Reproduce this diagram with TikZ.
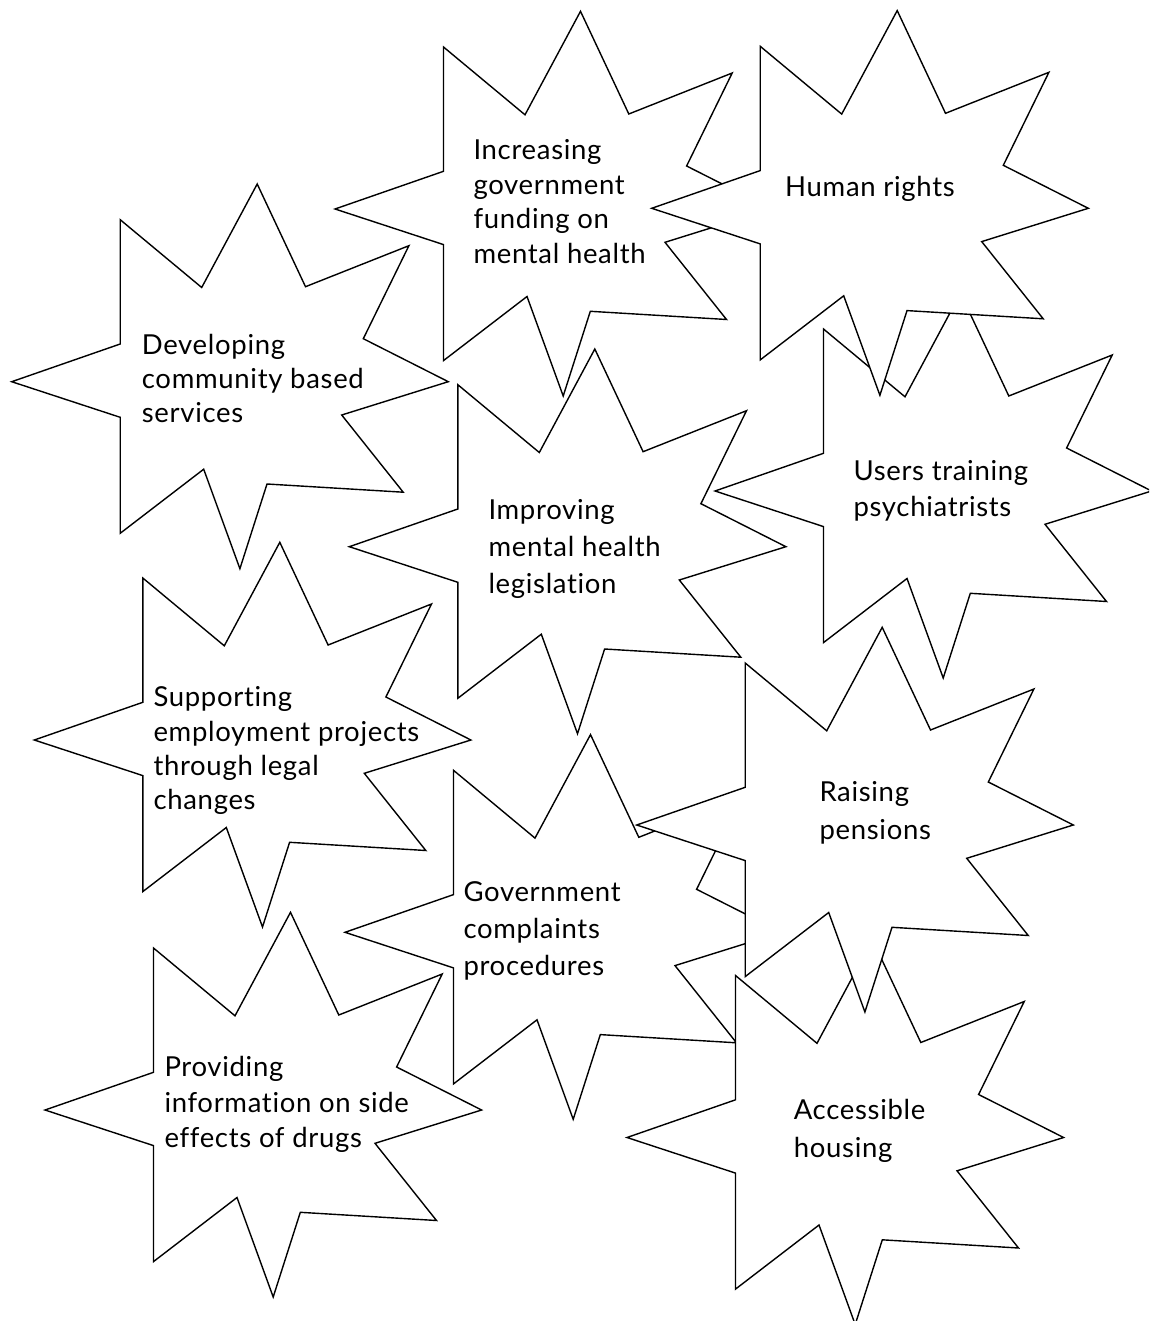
\documentclass[tikz,border=0pt]{standalone}
\usepackage{fontspec}
\setmainfont{Lato}[LetterSpace=2.5, Ligatures=NoCommon]
\newcommand\textlines[1]{\begin{tabular}[t]{@{}l@{}}#1\end{tabular}}
\begin{document}
\begin{tikzpicture}[x=1pt,y=-1pt,
  burst/.pic={
    \draw[fill=white, line width=1.4pt, line join=miter]
      (0,0) -- (108.5,-37.7) -- (108.5,-162) -- (190,-94.2) -- (245.5,-197.7)
      -- (293.8,-95) -- (397.2,-136) -- (351.6,-43) -- (436.6,0)
      -- (330,33.3) -- (391.5,110.5) -- (255.3,102.3) -- (228.2,187)
      -- (192,87.5) -- (108.5,151.6) -- (108.5,35.6) -- cycle;
  },
  blurb/.style={anchor=base west, inner sep=0pt, text=black,
    font=\fontsize{27.5}{#1}\selectfont}]
  \useasboundingbox (0,0) rectangle (1149,1321);
  \fill[white] (0,0) rectangle (1149,1321);
  \clip (0,0) rectangle (1149,1321);

  % bursts, back to front
  \pic at (11.7,381.7) {burst};
  \node[blurb=34] (developing) at (141.7,354.3)
    {\textlines{Developing\\community based\\services}};

  \pic at (34.3,740) {burst};
  \node[blurb=34.4] (supporting) at (153.3,706.7)
    {\textlines{Supporting\\employment projects\\through legal\\changes}};

  \pic at (45,1110) {burst};
  \node[blurb=35.3] (providing) at (164.3,1076.7)
    {\textlines{Providing\\information on side\\effects of drugs}};

  \pic at (349.3,546.7) {burst};
  \node[blurb=37] (improving) at (488.3,519)
    {\textlines{Improving\\mental health\\legislation}};

  \pic at (335,209) {burst};
  \node[blurb=34.4] (funding) at (473.3,160)
    {\textlines{Increasing\\government\\funding on\\mental health}};

  \pic at (715,491) {burst};
  \node[blurb=36.7] (users) at (853.3,480)
    {\textlines{Users training\\psychiatrists}};

  \pic at (651.7,208.3) {burst};
  \node[blurb=34] (rights) at (785,196.7) {\textlines{Human rights}};

  \pic at (345,932.3) {burst};
  \node[blurb=37] (complaints) at (463.3,901)
    {\textlines{Government\\complaints\\procedures}};

  \pic at (627,1137.5) {burst};
  \node[blurb=38] (housing) at (793.6,1119.5)
    {\textlines{Accessible\\housing}};

  \pic at (636.7,825) {burst};
  \node[blurb=37.6] (pensions) at (819.3,801.7)
    {\textlines{Raising\\pensions}};
\end{tikzpicture}
\end{document}
